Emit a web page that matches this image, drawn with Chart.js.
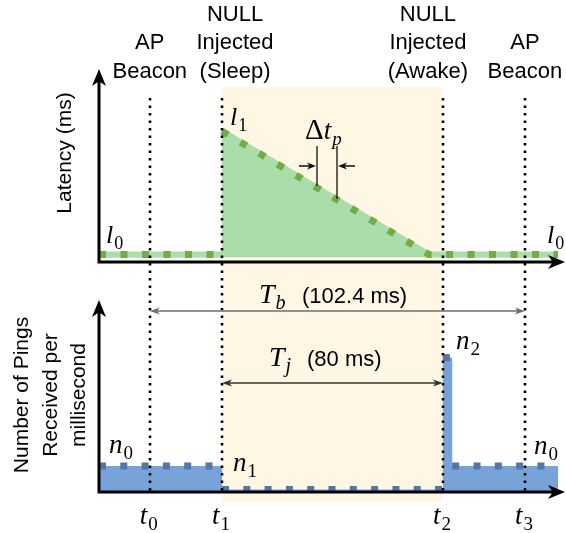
<!DOCTYPE html>
<html>
<head>
<meta charset="utf-8">
<script src="https://cdn.jsdelivr.net/npm/chart.js@4.4.0/dist/chart.umd.min.js"></script>
<style>
  html, body { margin: 0; padding: 0; background: #fff; }
  #wrap { position: relative; width: 566px; height: 533px; overflow: hidden; }
  canvas { position: absolute; left: 0; }
  #topChart { top: 0; }
  #bottomChart { top: 280px; }
</style>
</head>
<body>
<div id="wrap">
  <canvas id="topChart" width="566" height="280"></canvas>
  <canvas id="bottomChart" width="566" height="253"></canvas>
</div>
<script>
// time runs in arbitrary diagram units, 0..100 across the x axis
const eventTimes = [10.9, 26.4, 73.8, 91.4];   // t0 .. t3
const eventSubs = ['0', '1', '2', '3'];

// latency: l0 normally, jumps to l1 when the sleep NULL is injected, then drains
const latencyTime = [0, 26.4, 26.4, 70.8, 98.5];
const latencyValue = [0.15, 0.15, 6.7, 0.15, 0.15];

// pings per ms: n0 normally, n1 while asleep, burst n2 on wake-up
const pingTime = [0, 26.4, 26.4, 73.8, 73.8, 75.8, 75.8, 98.5];
const pingValue = [1.35, 1.35, 0.13, 0.13, 7.0, 7.0, 1.35, 1.35];

const SHADE = 'rgb(255,246,227)';
const GREEN_FILL = 'rgb(171,221,171)';
const GREEN_DOT = 'rgb(112,173,71)';
const BLUE_FILL = 'rgb(120,163,217)';
const BLUE_DOT = 'rgb(84,117,166)';
const SANS = '"Liberation Sans", Arial, sans-serif';
const SERIF = '"Liberation Serif", "Times New Roman", serif';

// vertical risers get no dots / border
const hideRisers = color => ({
  borderColor: c => c.p0.parsed.x === c.p1.parsed.x ? 'rgba(0,0,0,0)' : color
});

function arrowHead(ctx, x, y, dir, len, half) {
  ctx.save();
  ctx.translate(x, y);
  ctx.rotate(dir);
  ctx.beginPath();
  ctx.moveTo(0, 0);
  ctx.lineTo(-len, -half);
  ctx.lineTo(-len * 0.72, 0);
  ctx.lineTo(-len, half);
  ctx.closePath();
  ctx.fill();
  ctx.restore();
}

function dimArrow(ctx, x1, x2, y, color) {
  ctx.save();
  ctx.strokeStyle = color;
  ctx.fillStyle = color;
  ctx.lineWidth = 1.5;
  ctx.beginPath();
  ctx.moveTo(x1 + 4, y);
  ctx.lineTo(x2 - 4, y);
  ctx.stroke();
  arrowHead(ctx, x1, y, Math.PI, 10, 3.5);
  arrowHead(ctx, x2, y, 0, 10, 3.5);
  ctx.restore();
}

// italic base letter with a subscript; returns width
function mathText(ctx, x, y, base, sub, size, measureOnly) {
  ctx.font = 'italic ' + size + 'px ' + SERIF;
  const w1 = ctx.measureText(base).width;
  if (!measureOnly) ctx.fillText(base, x, y);
  const subSize = Math.round(size * 0.7);
  ctx.font = (/[a-z]/.test(sub) ? 'italic ' : '') + subSize + 'px ' + SERIF;
  const w2 = ctx.measureText(sub).width;
  if (!measureOnly) ctx.fillText(sub, x + w1 + 1, y + size * 0.22);
  return w1 + w2 + 1;
}

function axes(ctx, area, oy) {
  const left = area.left, right = area.right;
  const top = area.top + oy, bottom = area.bottom + oy;
  ctx.save();
  ctx.strokeStyle = '#000';
  ctx.fillStyle = '#000';
  ctx.lineWidth = 3;
  ctx.beginPath();
  ctx.moveTo(left, bottom);
  ctx.lineTo(left, top + 8);
  ctx.moveTo(left - 1.5, bottom);
  ctx.lineTo(right - 8, bottom);
  ctx.stroke();
  arrowHead(ctx, left, top, -Math.PI / 2, 17, 7);
  arrowHead(ctx, right, bottom, 0, 17, 7);
  ctx.restore();
}

function decor(panel, oy) {
  return {
    id: 'decor',
    beforeDatasetsDraw(chart) {
      const ctx = chart.ctx, x = chart.scales.x;
      const a = x.getPixelForValue(eventTimes[1]);
      const b = x.getPixelForValue(eventTimes[2]);
      ctx.save();
      ctx.translate(0, -oy);
      ctx.fillStyle = SHADE;
      ctx.fillRect(a, 87, b - a, 502 - 87);
      ctx.restore();
    },
    afterDatasetsDraw(chart) {
      const ctx = chart.ctx, x = chart.scales.x, y = chart.scales.y;
      ctx.save();
      ctx.translate(0, -oy);

      // dotted event lines
      ctx.save();
      ctx.strokeStyle = '#000';
      ctx.lineWidth = 2.6;
      ctx.setLineDash([2.6, 4.9]);
      eventTimes.forEach(t => {
        const px = Math.round(x.getPixelForValue(t));
        ctx.beginPath();
        ctx.moveTo(px, 98);
        ctx.lineTo(px, 494);
        ctx.stroke();
      });
      ctx.restore();

      axes(ctx, chart.chartArea, oy);

      ctx.fillStyle = '#000';
      ctx.textBaseline = 'alphabetic';
      if (panel === 'top') {
        ctx.font = '22px ' + SANS;
        ctx.textAlign = 'center';
        const x0 = x.getPixelForValue(eventTimes[0]);
        const x1 = x.getPixelForValue(eventTimes[1]);
        const x2 = x.getPixelForValue(eventTimes[2]);
        const x3 = x.getPixelForValue(eventTimes[3]);
        ctx.fillText('AP', x0, 49);
        ctx.fillText('Beacon', x0, 78);
        ctx.fillText('NULL', x1 + 13, 21);
        ctx.fillText('Injected', x1 + 13, 49);
        ctx.fillText('(Sleep)', x1 + 13, 78);
        ctx.fillText('NULL', x2 - 15, 21);
        ctx.fillText('Injected', x2 - 15, 49);
        ctx.fillText('(Awake)', x2 - 15, 78);
        ctx.fillText('AP', x3, 49);
        ctx.fillText('Beacon', x3, 78);

        ctx.save();
        ctx.translate(71, 153);
        ctx.rotate(-Math.PI / 2);
        ctx.font = '21px ' + SANS;
        ctx.fillText('Latency (ms)', 0, 0);
        ctx.restore();

        ctx.textAlign = 'left';
        const yl0 = y.getPixelForValue(latencyValue[0]);
        const yl1 = y.getPixelForValue(latencyValue[2]);
        mathText(ctx, 106, yl0 - 11, 'l', '0', 26);
        mathText(ctx, 547, yl0 - 11, 'l', '0', 26);
        mathText(ctx, x1 + 8, yl1 - 6, 'l', '1', 26);

        // delta t_p marker
        ctx.font = '29px ' + SERIF;
        ctx.fillText('\u0394', 305, 139);
        const wd = ctx.measureText('\u0394').width;
        mathText(ctx, 305 + wd, 139, 't', 'p', 27);
        ctx.save();
        ctx.strokeStyle = '#111';
        ctx.fillStyle = '#111';
        ctx.lineWidth = 1.3;
        ctx.beginPath();
        ctx.moveTo(317, 146); ctx.lineTo(317, 186);
        ctx.moveTo(337, 146); ctx.lineTo(337, 199);
        ctx.moveTo(299, 166); ctx.lineTo(310, 166);
        ctx.moveTo(355, 166); ctx.lineTo(344, 166);
        ctx.stroke();
        arrowHead(ctx, 316, 166, 0, 9, 3.5);
        arrowHead(ctx, 338, 166, Math.PI, 9, 3.5);
        ctx.restore();
      } else {
        const x0 = x.getPixelForValue(eventTimes[0]);
        const x1 = x.getPixelForValue(eventTimes[1]);
        const x2 = x.getPixelForValue(eventTimes[2]);
        const x3 = x.getPixelForValue(eventTimes[3]);

        dimArrow(ctx, x0, x3, 311, '#6e6e6e');
        dimArrow(ctx, x1, x2, 383, '#333');
        ctx.textAlign = 'left';
        mathText(ctx, 259, 303, 'T', 'b', 28);
        ctx.font = '22px ' + SANS;
        ctx.fillText('(102.4 ms)', 302, 303);
        mathText(ctx, 269, 366, 'T', 'j', 28);
        ctx.font = '22px ' + SANS;
        ctx.fillText('(80 ms)', 307, 366);

        const yn0 = y.getPixelForValue(pingValue[0]) + oy;
        const yn2 = y.getPixelForValue(pingValue[4]) + oy;
        mathText(ctx, 109, yn0 - 13, 'n', '0', 27);
        mathText(ctx, 534, yn0 - 12, 'n', '0', 27);
        mathText(ctx, x1 + 11, 471, 'n', '1', 27);
        mathText(ctx, x2 + 13, yn2 - 9, 'n', '2', 27);

        eventTimes.forEach((t, i) => {
          const w = mathText(ctx, 0, 0, 't', eventSubs[i], 27, true);
          mathText(ctx, x.getPixelForValue(t) - 1 - w / 2, 524, 't', eventSubs[i], 27);
        });

        ctx.save();
        ctx.textAlign = 'center';
        ctx.font = '21px ' + SANS;
        ctx.translate(0, 395);
        ctx.rotate(-Math.PI / 2);
        ctx.fillText('Number of Pings', 0, 28);
        ctx.fillText('Received per', 0, 56.5);
        ctx.fillText('millisecond', 0, 85);
        ctx.restore();
      }
      ctx.restore();
    }
  };
}

function makeChart(id, datasets, yMin, yMax, padding, plugin) {
  return new Chart(document.getElementById(id), {
    type: 'line',
    data: { datasets: datasets },
    options: {
      responsive: false,
      animation: false,
      devicePixelRatio: 1,
      layout: { padding: padding },
      plugins: { legend: { display: false }, tooltip: { enabled: false } },
      elements: { point: { radius: 0, hoverRadius: 0 }, line: { tension: 0 } },
      scales: {
        x: { type: 'linear', min: 0, max: 100, display: false },
        y: { min: yMin, max: yMax, display: false }
      }
    },
    plugins: [plugin]
  });
}

const latencyPts = latencyTime.map((t, i) => ({ x: t, y: latencyValue[i] }));
const pingPts = pingTime.map((t, i) => ({ x: t, y: pingValue[i] }));

makeChart('topChart', [
  {
    data: latencyPts, fill: 'origin', backgroundColor: GREEN_FILL,
    borderColor: GREEN_FILL, borderWidth: 6, segment: hideRisers(GREEN_FILL), order: 2
  },
  {
    data: latencyPts, fill: false, borderColor: GREEN_DOT, borderWidth: 7,
    borderDash: [7, 14.5], borderCapStyle: 'butt', segment: hideRisers(GREEN_DOT), order: 1
  }
], -0.25, 10, { left: 99, right: 1, top: 69, bottom: 18 }, decor('top', 0));

makeChart('bottomChart', [
  {
    data: pingPts, fill: 'origin', backgroundColor: BLUE_FILL,
    borderWidth: 0, order: 2
  },
  {
    data: pingPts, fill: false, borderColor: BLUE_DOT, borderWidth: 7,
    borderDash: [7, 14.3], borderCapStyle: 'butt', segment: hideRisers(BLUE_DOT), order: 1
  }
], 0, 10, { left: 99, right: 1, top: 20, bottom: 41 }, decor('bottom', 280));
</script>
</body>
</html>
